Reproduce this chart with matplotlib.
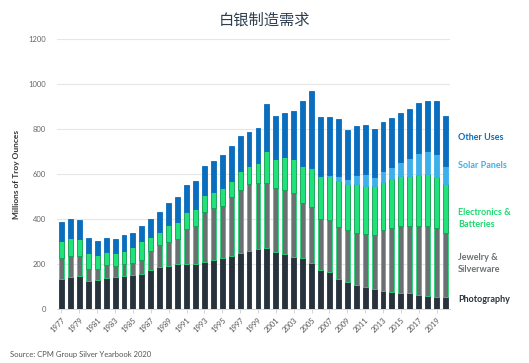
import matplotlib
matplotlib.use("Agg")
import matplotlib.pyplot as plt
import numpy as np

years = list(range(1977, 2021))
photography = [132, 144, 147, 124, 129, 136, 141, 147, 152, 156, 172, 187, 190, 198, 198, 200,
               209, 220, 228, 237, 250, 260, 268, 270, 252, 244, 232, 225, 203, 173, 163, 133,
               121, 107, 96, 89, 81, 77, 73, 70, 62, 58, 55, 55]
jewelry = [93, 93, 87, 52, 47, 58, 49, 52, 51, 62, 85, 98, 106, 111, 156, 170,
           222, 227, 231, 259, 279, 294, 293, 289, 284, 285, 282, 248, 252, 226, 233, 233,
           230, 232, 237, 240, 270, 282, 297, 299, 307, 312, 306, 281]
electronics = [77, 80, 77, 74, 64, 61, 60, 60, 73, 86, 64, 58, 77, 78, 75, 73,
               74, 74, 80, 74, 86, 82, 89, 143, 132, 148, 151, 163, 167, 189, 195, 205,
               204, 217, 214, 218, 215, 219, 221, 224, 227, 230, 227, 220]
solar = [0] * 28 + [3, 3, 5, 20, 25, 40, 53, 41, 49, 55, 64, 77, 99, 102, 101, 80]
other = [83, 83, 85, 67, 64, 62, 60, 70, 60, 65, 80, 86, 97, 113, 123, 128,
         130, 137, 145, 154, 154, 149, 153, 209, 190, 193, 216, 288, 344, 264, 259, 253,
         216, 219, 218, 212, 218, 214, 215, 219, 219, 224, 237, 222]

series_names = ["Photography", "Jewelry &\nSilverware", "Electronics &\nBatteries", "Solar Panels", "Other Uses"]
colors = ["#27323d", "#6b7173", "#1fe27a", "#3cb0ea", "#0a6dbd"]
edges = ["#27323d", "#1fd872", "#139a50", "#3cb0ea", "#0a6dbd"]

fig = plt.figure(figsize=(5.29, 3.63), dpi=100)
ax = fig.add_axes([57/529, 1-309/363, (450-57)/529, (309-39)/363])

x = np.arange(len(years))
bottom = np.zeros(len(years))
for vals, c, e in zip([photography, jewelry, electronics, solar, other], colors, edges):
    v = np.array(vals, dtype=float)
    ax.bar(x, v, bottom=bottom, width=0.55, color=c, edgecolor=e, linewidth=0.6, zorder=3)
    bottom += v

ax.set_xlim(-0.5, len(years) - 0.5)
ax.set_ylim(0, 1200)
ax.set_yticks(range(0, 1201, 200))
ax.yaxis.grid(True, color="#e6e6e6", linewidth=0.8, zorder=0)
ax.tick_params(axis="y", length=0, labelsize=5.5, labelcolor="#666666", pad=8)
for s in ["top", "right", "left"]:
    ax.spines[s].set_visible(False)
ax.spines["bottom"].set_color("#d0d0d0")
ax.spines["bottom"].set_linewidth(0.6)

tick_idx = list(range(0, len(years) - 1, 2))
ax.set_xticks(tick_idx)
ax.set_xticklabels([str(years[i]) for i in tick_idx], rotation=45, ha="right",
                   rotation_mode="anchor", fontsize=5.5, color="#555555")
ax.tick_params(axis="x", length=3, color="#d0d0d0", width=0.6, pad=2)

for lab in ax.get_yticklabels() + ax.get_xticklabels():
    lab.set_family("Lato")

ax.set_ylabel("Millions of Troy Ounces", fontsize=6, fontweight="bold", color="#333333",
              family="Lato", labelpad=6)

# series labels at right
label_y = [44, 204, 404, 640, 764]
label_colors = ["#27323d", "#6b7173", "#1fd872", "#3cb0ea", "#0a6dbd"]
for name, yv, c in zip(series_names, label_y, label_colors):
    ax.text(1.02, yv, name, transform=ax.get_yaxis_transform(), fontsize=6.5,
            fontweight="bold", color=c, family="Lato", va="center", ha="left",
            linespacing=1.4, clip_on=False)

fig.text(0.5, 1-20/363, "白银制造需求", ha="center", va="center", fontsize=11,
         color="#2d3e50", family=["Noto Sans CJK SC", "DejaVu Sans"])
fig.text(10/529, 1-354/363, "Source: CPM Group Silver Yearbook 2020", ha="left", va="center",
         fontsize=5.5, color="#555555", family="Lato")

fig.savefig("out.png", dpi=100)
